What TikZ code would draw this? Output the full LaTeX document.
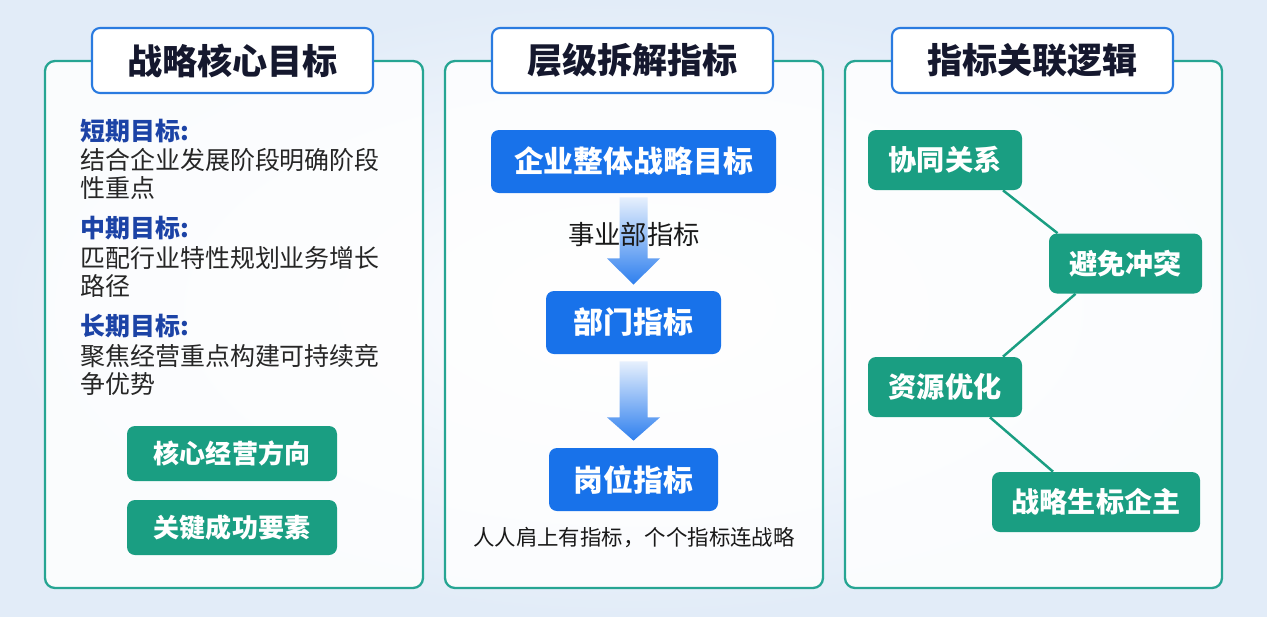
\documentclass[tikz,border=0pt]{standalone}
\usepackage{fontspec}
\setmainfont{Noto Sans CJK SC}
\usetikzlibrary{positioning,calc}
\definecolor{bgblue}{HTML}{E2ECF8}
\definecolor{frameteal}{HTML}{26A593}
\definecolor{titleblue}{HTML}{2A7BE0}
\definecolor{titleink}{HTML}{15182E}
\definecolor{headblue}{HTML}{1C43A6}
\definecolor{boxgreen}{HTML}{1A9E82}
\definecolor{boxblue}{HTML}{1872EA}
\definecolor{arrowblue}{HTML}{2E7FEE}

\begin{document}
\begin{tikzpicture}[
  panel/.style={draw=frameteal,line width=1.3pt,rounded corners=0.2cm,fill=white,fill opacity=0.85},
  titlebox/.style={draw=titleblue,line width=1.2pt,rounded corners=0.16cm,fill=white,
    minimum width=5.62cm,minimum height=1.3cm,text=titleink,font=\fontsize{20}{24}\selectfont\bfseries},
  greenbox/.style={fill=boxgreen,rounded corners=0.16cm,text=white,minimum height=1.2cm},
  bluebox/.style={fill=boxblue,rounded corners=0.16cm,text=white,minimum height=1.26cm,
    font=\fontsize{17}{20}\selectfont\bfseries},
  head/.style={anchor=west,inner sep=0pt,text=headblue,font=\fontsize{14.2}{16}\selectfont\bfseries},
  body/.style={anchor=west,inner sep=0pt,align=left,text=black!85,font=\fontsize{14.2}{15.9}\selectfont},
  link/.style={draw=boxgreen,line width=1.4pt}
]
% background
\useasboundingbox (0,0) rectangle (25.34,-12.32);
\shade[inner color=white,outer color=bgblue] (0,0) rectangle (25.34,-12.32);

% panels
\draw[panel] (0.90,-1.22) rectangle (8.46,-11.76);
\draw[panel] (8.90,-1.22) rectangle (16.46,-11.76);
\draw[panel] (16.90,-1.22) rectangle (24.44,-11.76);
\node[titlebox] (t1) at (4.65,-1.21) {战略核心目标};
\node[titlebox] (t2) at (12.65,-1.21) {层级拆解指标};
\node[titlebox] (t3) at (20.65,-1.21) {指标关联逻辑};

% panel 1
\node[head] (h1) at (1.60,-2.62) {短期目标:};
\node[body] (b1) at (1.60,-3.48) {结合企业发展阶段明确阶段\\性重点};
\node[head] (h2) at (1.60,-4.56) {中期目标:};
\node[body] (b2) at (1.60,-5.44) {匹配行业特性规划业务增长\\路径};
\node[head] (h3) at (1.60,-6.52) {长期目标:};
\node[body] (b3) at (1.60,-7.39) {聚焦经营重点构建可持续竞\\争优势};
\node[greenbox,minimum width=4.2cm,minimum height=1.1cm,font=\fontsize{14.8}{18}\selectfont\bfseries] (core) at (4.64,-9.07) {核心经营方向};
\node[greenbox,minimum width=4.2cm,minimum height=1.1cm,font=\fontsize{14.8}{18}\selectfont\bfseries] (key) at (4.64,-10.55) {关键成功要素};

% panel 2
\node[bluebox,minimum width=5.70cm] (corp) at (12.67,-3.23) {企业整体战略目标};
\node[bluebox,minimum width=3.50cm] (dept) at (12.67,-6.45) {部门指标};
\node[bluebox,minimum width=3.38cm] (post) at (12.67,-9.59) {岗位指标};
\shade[top color=arrowblue!12,bottom color=arrowblue]
  ($(corp.south)+(-0.28,-0.08)$) -- ($(corp.south)+(0.28,-0.08)$) -- ($(corp.south)+(0.28,-1.30)$)
  -- ($(corp.south)+(0.53,-1.30)$) -- ($(dept.north)+(0,0.12)$) -- ($(corp.south)+(-0.53,-1.30)$)
  -- ($(corp.south)+(-0.28,-1.30)$) -- cycle;
\shade[top color=arrowblue!12,bottom color=arrowblue]
  ($(dept.south)+(-0.28,-0.14)$) -- ($(dept.south)+(0.28,-0.14)$) -- ($(dept.south)+(0.28,-1.26)$)
  -- ($(dept.south)+(0.53,-1.26)$) -- ($(post.north)+(0,0.14)$) -- ($(dept.south)+(-0.53,-1.26)$)
  -- ($(dept.south)+(-0.28,-1.26)$) -- cycle;
\node[font=\fontsize{15}{18}\selectfont,text=black!90] (unit) at (12.68,-4.68) {事业部指标};
\node[font=\fontsize{12.2}{15}\selectfont,text=black!90] (motto) at (12.68,-10.76) {人人肩上有指标，个个指标连战略};

% panel 3
\node[greenbox,minimum width=3.08cm,font=\fontsize{16}{19}\selectfont\bfseries] (syn) at (18.90,-3.20) {协同关系};
\node[greenbox,minimum width=3.06cm,font=\fontsize{16}{19}\selectfont\bfseries] (avoid) at (22.51,-5.27) {避免冲突};
\node[greenbox,minimum width=3.08cm,font=\fontsize{16}{19}\selectfont\bfseries] (res) at (18.90,-7.74) {资源优化};
\node[greenbox,minimum width=4.16cm,font=\fontsize{16}{19}\selectfont\bfseries] (strat) at (21.92,-10.04) {战略生标企主};
\draw[link] ([xshift=1.16cm]syn.south) -- ([xshift=-1.36cm]avoid.north);
\draw[link] ([xshift=-1.0cm]avoid.south) -- ([xshift=1.16cm]res.north);
\draw[link] ([xshift=0.9cm]res.south) -- ([xshift=-0.86cm]strat.north);
\end{tikzpicture}
\end{document}
